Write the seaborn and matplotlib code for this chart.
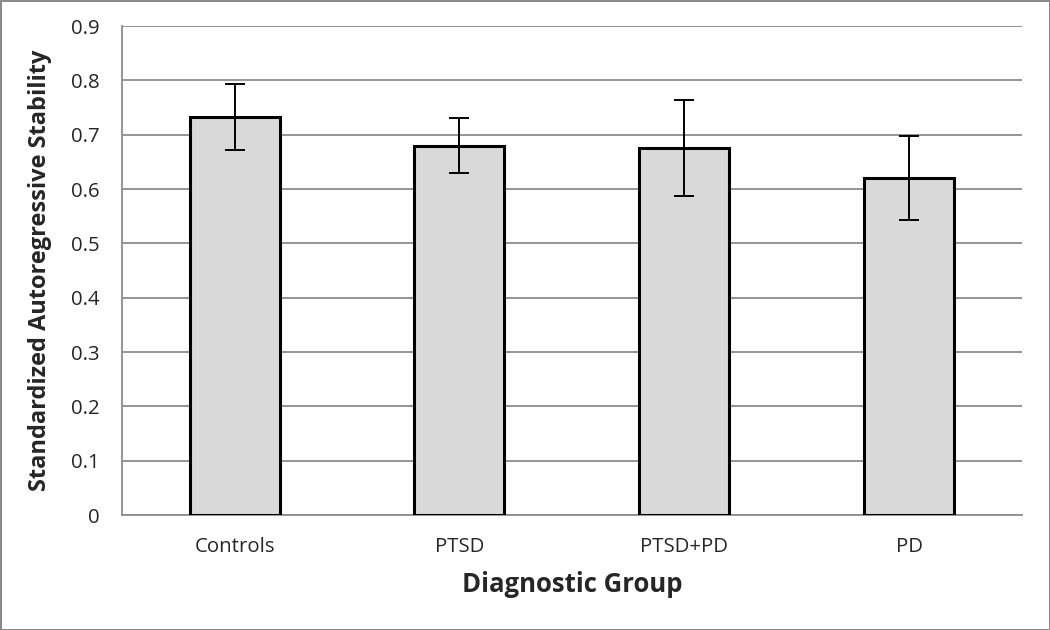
import seaborn as sns
import matplotlib.pyplot as plt
import pandas as pd

# Data
groups = ['Controls', 'PTSD', 'PTSD+PD', 'PD']
stability = [0.733, 0.680, 0.676, 0.620]
err = [0.061, 0.050, 0.088, 0.077]

df = pd.DataFrame({'group': groups, 'stability': stability})

sns.set_style("white")
plt.rcParams['font.family'] = ['Open Sans', 'DejaVu Sans']

fig = plt.figure(figsize=(10.5, 6.3), dpi=100, linewidth=2, edgecolor='#8a8a8a')
ax = fig.add_axes([0.1162, 0.1825, 0.8571, 0.7762])

sns.barplot(x='group', y='stability', data=df, color='#d9d9d9', width=0.4,
            edgecolor='black', linewidth=2.2, errorbar=None, saturation=1, ax=ax, zorder=3)
ax.errorbar(range(len(groups)), stability, yerr=err, fmt='none', ecolor='black',
            elinewidth=1.4, capsize=7, capthick=1.4, zorder=4)

ax.set_ylim(0, 0.9)
ax.set_xlim(-0.5, 3.5)
ax.set_yticks([i / 10 for i in range(10)])
ax.set_yticklabels(['0'] + [f'{i / 10:.1f}' for i in range(1, 10)])
ax.yaxis.grid(True, color='#8c8c8c', linewidth=1.3, zorder=0)
ax.set_axisbelow(True)
for s in ['top', 'right']:
    ax.spines[s].set_visible(False)
ax.spines['left'].set_color('#8c8c8c')
ax.spines['bottom'].set_color('#8c8c8c')
ax.spines['left'].set_linewidth(1.3)
ax.spines['bottom'].set_linewidth(1.3)
ax.tick_params(axis='both', labelsize=14.7, length=0)
ax.tick_params(axis='x', pad=16)
ax.tick_params(axis='y', pad=16)

ax.set_xlabel('Diagnostic Group', fontsize=18.5, fontweight='bold', labelpad=10)
ax.set_ylabel('Standardized Autoregressive Stability', fontsize=17, fontweight='bold', labelpad=14)

fig.savefig('out.png', dpi=100, edgecolor=fig.get_edgecolor())
